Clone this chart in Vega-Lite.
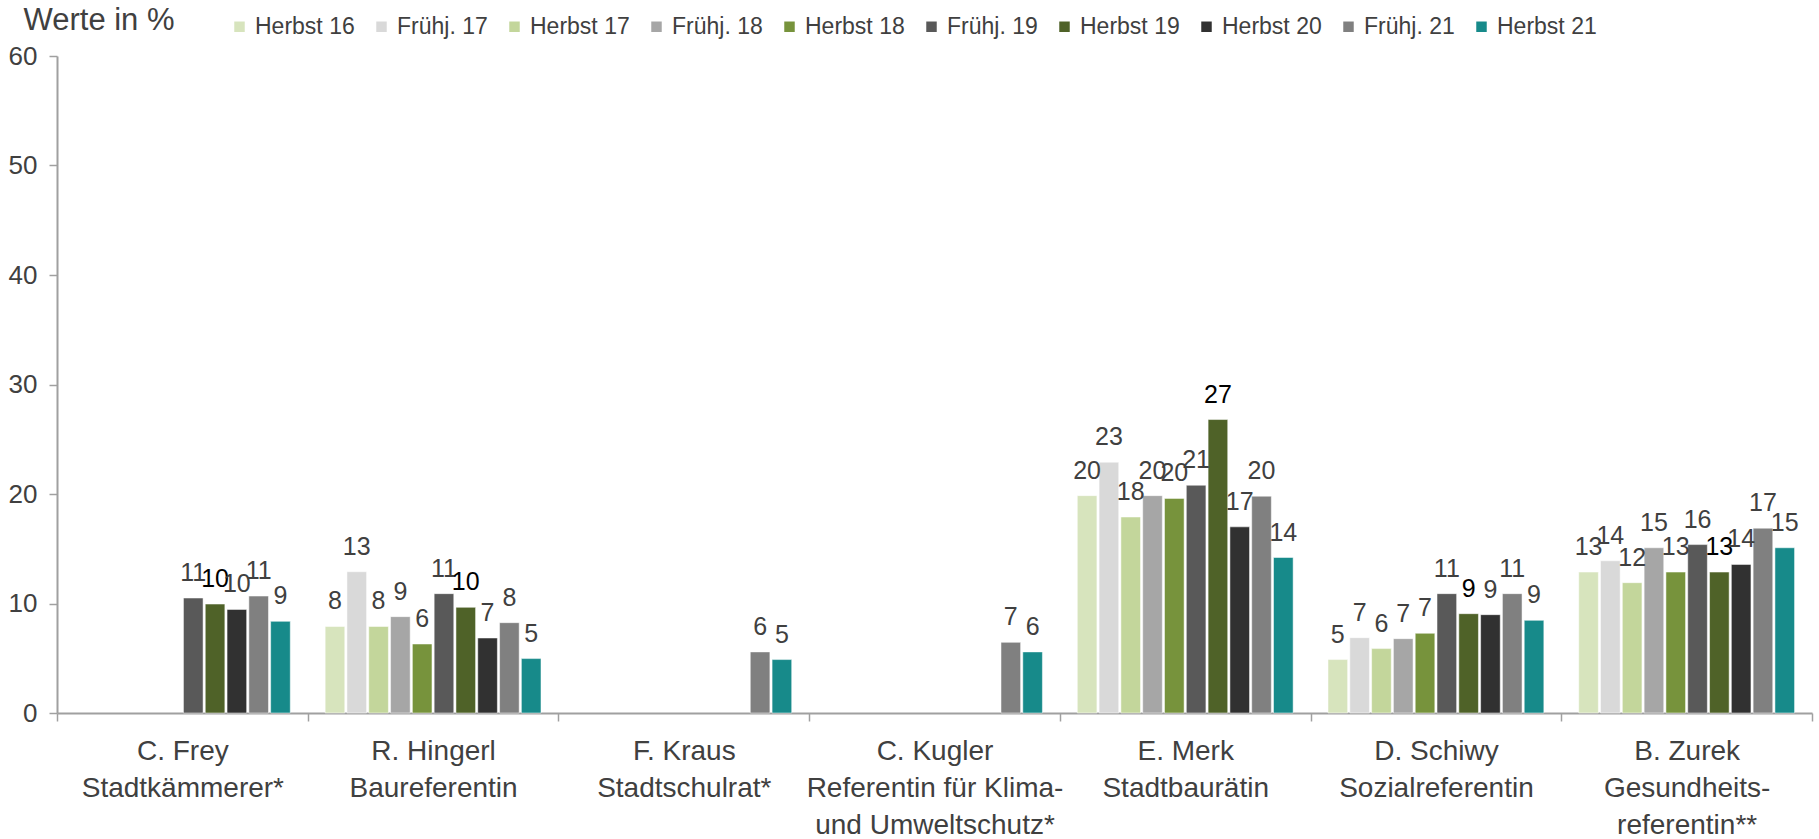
{
  "$schema": "https://vega.github.io/schema/vega-lite/v6.json",
  "width": 1755,
  "height": 657,
  "autosize": {"type": "none"},
  "padding": {"left": 57, "top": 56, "right": 7, "bottom": 126},
  "background": "white",
  "config": {
    "view": {"stroke": null},
    "font": "Liberation Sans",
    "text": {"font": "Liberation Sans"}
  },
  "data": {
    "values": [
      {"ref": "C. Frey|Stadtkämmerer*", "series": "Frühj. 19", "value": 10.5, "label": "11"},
      {"ref": "C. Frey|Stadtkämmerer*", "series": "Herbst 19", "value": 9.95, "label": "10"},
      {"ref": "C. Frey|Stadtkämmerer*", "series": "Herbst 20", "value": 9.46, "label": "10"},
      {"ref": "C. Frey|Stadtkämmerer*", "series": "Frühj. 21", "value": 10.68, "label": "11"},
      {"ref": "C. Frey|Stadtkämmerer*", "series": "Herbst 21", "value": 8.37, "label": "9"},
      {"ref": "R. Hingerl|Baureferentin", "series": "Herbst 16", "value": 7.9, "label": "8"},
      {"ref": "R. Hingerl|Baureferentin", "series": "Frühj. 17", "value": 12.9, "label": "13"},
      {"ref": "R. Hingerl|Baureferentin", "series": "Herbst 17", "value": 7.9, "label": "8"},
      {"ref": "R. Hingerl|Baureferentin", "series": "Frühj. 18", "value": 8.8, "label": "9"},
      {"ref": "R. Hingerl|Baureferentin", "series": "Herbst 18", "value": 6.3, "label": "6"},
      {"ref": "R. Hingerl|Baureferentin", "series": "Frühj. 19", "value": 10.9, "label": "11"},
      {"ref": "R. Hingerl|Baureferentin", "series": "Herbst 19", "value": 9.65, "label": "10"},
      {"ref": "R. Hingerl|Baureferentin", "series": "Herbst 20", "value": 6.85, "label": "7"},
      {"ref": "R. Hingerl|Baureferentin", "series": "Frühj. 21", "value": 8.25, "label": "8"},
      {"ref": "R. Hingerl|Baureferentin", "series": "Herbst 21", "value": 4.97, "label": "5"},
      {"ref": "F. Kraus|Stadtschulrat*", "series": "Frühj. 21", "value": 5.58, "label": "6"},
      {"ref": "F. Kraus|Stadtschulrat*", "series": "Herbst 21", "value": 4.88, "label": "5"},
      {"ref": "C. Kugler|Referentin für Klima-|und Umweltschutz*", "series": "Frühj. 21", "value": 6.45, "label": "7"},
      {"ref": "C. Kugler|Referentin für Klima-|und Umweltschutz*", "series": "Herbst 21", "value": 5.58, "label": "6"},
      {"ref": "E. Merk|Stadtbaurätin", "series": "Herbst 16", "value": 19.85, "label": "20"},
      {"ref": "E. Merk|Stadtbaurätin", "series": "Frühj. 17", "value": 22.9, "label": "23"},
      {"ref": "E. Merk|Stadtbaurätin", "series": "Herbst 17", "value": 17.9, "label": "18"},
      {"ref": "E. Merk|Stadtbaurätin", "series": "Frühj. 18", "value": 19.85, "label": "20"},
      {"ref": "E. Merk|Stadtbaurätin", "series": "Herbst 18", "value": 19.6, "label": "20"},
      {"ref": "E. Merk|Stadtbaurätin", "series": "Frühj. 19", "value": 20.8, "label": "21"},
      {"ref": "E. Merk|Stadtbaurätin", "series": "Herbst 19", "value": 26.8, "label": "27"},
      {"ref": "E. Merk|Stadtbaurätin", "series": "Herbst 20", "value": 17.0, "label": "17"},
      {"ref": "E. Merk|Stadtbaurätin", "series": "Frühj. 21", "value": 19.8, "label": "20"},
      {"ref": "E. Merk|Stadtbaurätin", "series": "Herbst 21", "value": 14.2, "label": "14"},
      {"ref": "D. Schiwy|Sozialreferentin", "series": "Herbst 16", "value": 4.88, "label": "5"},
      {"ref": "D. Schiwy|Sozialreferentin", "series": "Frühj. 17", "value": 6.88, "label": "7"},
      {"ref": "D. Schiwy|Sozialreferentin", "series": "Herbst 17", "value": 5.88, "label": "6"},
      {"ref": "D. Schiwy|Sozialreferentin", "series": "Frühj. 18", "value": 6.79, "label": "7"},
      {"ref": "D. Schiwy|Sozialreferentin", "series": "Herbst 18", "value": 7.28, "label": "7"},
      {"ref": "D. Schiwy|Sozialreferentin", "series": "Frühj. 19", "value": 10.9, "label": "11"},
      {"ref": "D. Schiwy|Sozialreferentin", "series": "Herbst 19", "value": 9.07, "label": "9"},
      {"ref": "D. Schiwy|Sozialreferentin", "series": "Herbst 20", "value": 8.98, "label": "9"},
      {"ref": "D. Schiwy|Sozialreferentin", "series": "Frühj. 21", "value": 10.9, "label": "11"},
      {"ref": "D. Schiwy|Sozialreferentin", "series": "Herbst 21", "value": 8.46, "label": "9"},
      {"ref": "B. Zurek|Gesundheits-|referentin**", "series": "Herbst 16", "value": 12.87, "label": "13"},
      {"ref": "B. Zurek|Gesundheits-|referentin**", "series": "Frühj. 17", "value": 13.9, "label": "14"},
      {"ref": "B. Zurek|Gesundheits-|referentin**", "series": "Herbst 17", "value": 11.9, "label": "12"},
      {"ref": "B. Zurek|Gesundheits-|referentin**", "series": "Frühj. 18", "value": 15.09, "label": "15"},
      {"ref": "B. Zurek|Gesundheits-|referentin**", "series": "Herbst 18", "value": 12.87, "label": "13"},
      {"ref": "B. Zurek|Gesundheits-|referentin**", "series": "Frühj. 19", "value": 15.38, "label": "16"},
      {"ref": "B. Zurek|Gesundheits-|referentin**", "series": "Herbst 19", "value": 12.87, "label": "13"},
      {"ref": "B. Zurek|Gesundheits-|referentin**", "series": "Herbst 20", "value": 13.57, "label": "14"},
      {"ref": "B. Zurek|Gesundheits-|referentin**", "series": "Frühj. 21", "value": 16.88, "label": "17"},
      {"ref": "B. Zurek|Gesundheits-|referentin**", "series": "Herbst 21", "value": 15.09, "label": "15"}
    ]
  },
  "encoding": {
    "x": {
      "field": "ref",
      "type": "nominal",
      "sort": null,
      "scale": {"paddingInner": 0, "paddingOuter": 0},
      "axis": {
        "title": null,
        "labelAngle": 0,
        "labelExpr": "split(datum.label, '|')",
        "labelFontSize": 28,
        "labelColor": "#404040",
        "labelLineHeight": 37,
        "labelPadding": 16,
        "labelLimit": 0,
        "labelFont": "Liberation Sans",
        "tickBand": "extent",
        "tickSize": 8,
        "tickColor": "#a0a0a0",
        "tickWidth": 1.5,
        "domainColor": "#a0a0a0",
        "domainWidth": 2
      }
    },
    "xOffset": {
      "field": "series",
      "type": "nominal",
      "scale": {
        "domain": ["Herbst 16", "Frühj. 17", "Herbst 17", "Frühj. 18", "Herbst 18", "Frühj. 19", "Herbst 19", "Herbst 20", "Frühj. 21", "Herbst 21"],
        "paddingInner": 0.1,
        "paddingOuter": 0.8
      }
    },
    "y": {
      "field": "value",
      "type": "quantitative",
      "scale": {"domain": [0, 60], "nice": false},
      "axis": {
        "values": [0, 10, 20, 30, 40, 50, 60],
        "grid": false,
        "title": "Werte in %",
        "titleAngle": 0,
        "titleAlign": "left",
        "titleBaseline": "alphabetic",
        "titleX": -34,
        "titleY": -27,
        "titleFontSize": 31,
        "titleFontWeight": "normal",
        "titleColor": "#404040",
        "titleFont": "Liberation Sans",
        "labelFontSize": 26,
        "labelColor": "#404040",
        "labelPadding": 12,
        "labelFont": "Liberation Sans",
        "tickSize": 8,
        "tickColor": "#a0a0a0",
        "tickWidth": 1.5,
        "domainColor": "#a0a0a0",
        "domainWidth": 2
      }
    }
  },
  "layer": [
    {
      "mark": {"type": "bar", "stroke": "white", "strokeWidth": 0.5},
      "encoding": {
        "color": {
          "field": "series",
          "type": "nominal",
          "scale": {
            "domain": ["Herbst 16", "Frühj. 17", "Herbst 17", "Frühj. 18", "Herbst 18", "Frühj. 19", "Herbst 19", "Herbst 20", "Frühj. 21", "Herbst 21"],
            "range": ["#d7e4bd", "#d9d9d9", "#c3d69b", "#a6a6a6", "#77933c", "#595959", "#4f6228", "#313131", "#808080", "#178a8a"]
          },
          "legend": {
            "title": null,
            "orient": "none",
            "direction": "horizontal",
            "columns": 10,
            "legendX": 171,
            "legendY": -41,
            "symbolType": "square",
            "symbolSize": 110,
            "symbolStrokeWidth": 0,
            "labelFontSize": 23,
            "labelColor": "#404040",
            "labelFont": "Liberation Sans",
            "labelOffset": 4,
            "columnPadding": 15
          }
        }
      }
    },
    {
      "mark": {"type": "text", "baseline": "alphabetic", "dy": -17, "fontSize": 25, "font": "Liberation Sans"},
      "encoding": {
        "text": {"field": "label"},
        "color": {
          "condition": {"test": "datum.series === 'Herbst 19'", "value": "#000000"},
          "value": "#404040"
        }
      }
    }
  ]
}
